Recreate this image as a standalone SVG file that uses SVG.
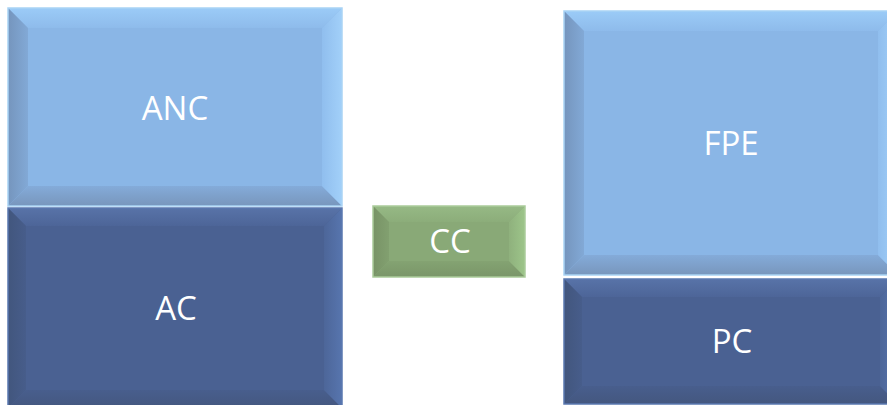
<svg xmlns="http://www.w3.org/2000/svg" width="887" height="405" viewBox="0 0 887 405">
<defs>
<linearGradient id="ltT" x1="0" y1="0" x2="0" y2="1"><stop offset="0" stop-color="#9BCBF7"/><stop offset="1" stop-color="#8EBBEB"/></linearGradient>
<linearGradient id="ltB" x1="0" y1="1" x2="0" y2="0"><stop offset="0" stop-color="#7896BC"/><stop offset="1" stop-color="#84ABD9"/></linearGradient>
<linearGradient id="ltL" x1="0" y1="0" x2="1" y2="0"><stop offset="0" stop-color="#7595BD"/><stop offset="1" stop-color="#82A9D6"/></linearGradient>
<linearGradient id="ltR" x1="1" y1="0" x2="0" y2="0"><stop offset="0" stop-color="#A2D0F9"/><stop offset="1" stop-color="#90BEEE"/></linearGradient>
<linearGradient id="dkT" x1="0" y1="0" x2="0" y2="1"><stop offset="0" stop-color="#5873A8"/><stop offset="1" stop-color="#4D6598"/></linearGradient>
<linearGradient id="dkB" x1="0" y1="1" x2="0" y2="0"><stop offset="0" stop-color="#44577F"/><stop offset="1" stop-color="#485E8D"/></linearGradient>
<linearGradient id="dkL" x1="0" y1="0" x2="1" y2="0"><stop offset="0" stop-color="#42567D"/><stop offset="1" stop-color="#475D8B"/></linearGradient>
<linearGradient id="dkR" x1="1" y1="0" x2="0" y2="0"><stop offset="0" stop-color="#5775AE"/><stop offset="1" stop-color="#4D6699"/></linearGradient>
<linearGradient id="grT" x1="0" y1="0" x2="0" y2="1"><stop offset="0" stop-color="#96B985"/><stop offset="1" stop-color="#8CAD7A"/></linearGradient>
<linearGradient id="grB" x1="0" y1="1" x2="0" y2="0"><stop offset="0" stop-color="#7A9669"/><stop offset="1" stop-color="#84A372"/></linearGradient>
<linearGradient id="grL" x1="0" y1="0" x2="1" y2="0"><stop offset="0" stop-color="#789366"/><stop offset="1" stop-color="#82A070"/></linearGradient>
<linearGradient id="grR" x1="1" y1="0" x2="0" y2="0"><stop offset="0" stop-color="#9DC58A"/><stop offset="1" stop-color="#8FB17D"/></linearGradient>
</defs>
<style>
.lbl{font-family:"Open Sans","Liberation Sans",sans-serif;font-size:33px;fill:#ffffff;text-anchor:middle}
.lt .face{fill:#8AB6E6}.lt .t{fill:url(#ltT)}.lt .l{fill:url(#ltL)}.lt .r{fill:url(#ltR)}.lt .b{fill:url(#ltB)}.lt .edge{fill:none;stroke:#A9D3F5;stroke-width:1.5}
.dk .face{fill:#4A6192}.dk .t{fill:url(#dkT)}.dk .l{fill:url(#dkL)}.dk .r{fill:url(#dkR)}.dk .b{fill:url(#dkB)}.dk .edge{fill:none;stroke:#5A78B0;stroke-width:1.5}
.gr .face{fill:#89A977}.gr .t{fill:url(#grT)}.gr .l{fill:url(#grL)}.gr .r{fill:url(#grR)}.gr .b{fill:url(#grB)}.gr .edge{fill:none;stroke:#AACB9A;stroke-width:1.5}
</style>
<rect width="887" height="405" fill="#ffffff"/>
<g id="ANC" class="lt">
<rect class="face" x="8" y="8" width="334" height="198"/>
<polygon class="t" points="8,8 342,8 322,28 28,28"/>
<polygon class="b" points="8,206 342,206 322,186 28,186"/>
<polygon class="l" points="8,8 28,28 28,186 8,206"/>
<polygon class="r" points="342,8 322,28 322,186 342,206"/>
<rect class="edge" x="8" y="8" width="334" height="198"/>
<text class="lbl" x="175" y="120">ANC</text>
</g>
<g id="AC" class="dk">
<rect class="face" x="8" y="208" width="334" height="200"/>
<polygon class="t" points="8,208 342,208 324,226 26,226"/>
<polygon class="b" points="8,408 342,408 324,390 26,390"/>
<polygon class="l" points="8,208 26,226 26,390 8,408"/>
<polygon class="r" points="342,208 324,226 324,390 342,408"/>
<rect class="edge" x="8" y="208" width="334" height="200"/>
<text class="lbl" x="176" y="320">AC</text>
</g>
<g id="CC" class="gr">
<rect class="face" x="373" y="206" width="152" height="71"/>
<polygon class="t" points="373,206 525,206 509,222 389,222"/>
<polygon class="b" points="373,277 525,277 509,261 389,261"/>
<polygon class="l" points="373,206 389,222 389,261 373,277"/>
<polygon class="r" points="525,206 509,222 509,261 525,277"/>
<rect class="edge" x="373" y="206" width="152" height="71"/>
<text class="lbl" x="450" y="253">CC</text>
</g>
<g id="FPE" class="lt">
<rect class="face" x="564" y="11" width="334" height="264"/>
<polygon class="t" points="564,11 898,11 878,31 584,31"/>
<polygon class="b" points="564,275 898,275 878,255 584,255"/>
<polygon class="l" points="564,11 584,31 584,255 564,275"/>
<polygon class="r" points="898,11 878,31 878,255 898,275"/>
<rect class="edge" x="564" y="11" width="334" height="264"/>
<text class="lbl" x="731" y="155">FPE</text>
</g>
<g id="PC" class="dk">
<rect class="face" x="564" y="279" width="334" height="125"/>
<polygon class="t" points="564,279 898,279 880,297 582,297"/>
<polygon class="b" points="564,404 898,404 880,386 582,386"/>
<polygon class="l" points="564,279 582,297 582,386 564,404"/>
<polygon class="r" points="898,279 880,297 880,386 898,404"/>
<rect class="edge" x="564" y="279" width="334" height="125"/>
<text class="lbl" x="732" y="353">PC</text>
</g>
<g id="connectors"/>
</svg>
